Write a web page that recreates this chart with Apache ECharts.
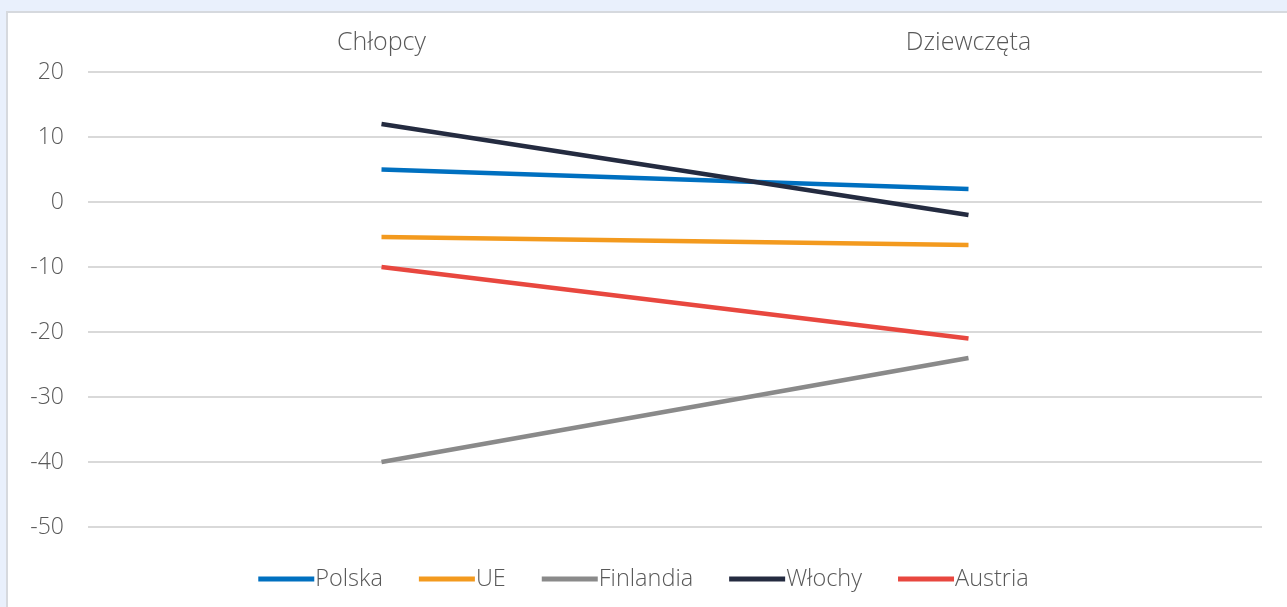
<!DOCTYPE html>
<html>
<head>
<meta charset="utf-8">
<script src="https://cdn.jsdelivr.net/npm/echarts@6/dist/echarts.min.js"></script>
<style>
    html, body { margin: 0; padding: 0; background: #e9f0fc; }
    #card {
        position: absolute; left: 6px; top: 11px; width: 1290px; height: 610px;
        background: #fff; border-left: 2px solid #d6d9de; border-top: 2px solid #d6d9de;
    }
    #chartLine { position: absolute; left: 0; top: 0; width: 1287px; height: 607px; }
</style>
</head>
<body>
<div id="card"></div>
<div id="chartLine"></div>
<script>
// 데이터
const categories = ['Chłopcy', 'Dziewczęta'];
const polska = [5, 2];
const ue = [-5.4, -6.6];
const finlandia = [-40, -24];
const wlochy = [12, -2];
const austria = [-10, -21];

const labelFont = '"Open Sans", "Liberation Sans", sans-serif';

function lineSeries(name, data, color) {
    return {
        name: name,
        type: 'line',
        data: data,
        showSymbol: false,
        symbol: 'none',
        color: color,
        lineStyle: { width: 4.5, color: color },
    };
}

const lineChart = echarts.init(document.getElementById('chartLine'));

const option = {
    animation: false,
    textStyle: { fontFamily: labelFont },
    grid: { left: 88, right: 25, top: 72, bottom: 80 },
    legend: {
        bottom: 11,
        left: 'center',
        icon: 'rect',
        itemWidth: 56,
        itemHeight: 5,
        itemGap: 36,
        textStyle: { fontSize: 23.5, color: '#595959', fontWeight: 300, padding: [0, 0, 0, -4] },
        data: ['Polska', 'UE', 'Finlandia', 'Włochy', 'Austria'],
    },
    xAxis: {
        type: 'category',
        position: 'top',
        data: categories,
        axisLine: { show: false },
        axisTick: { show: false },
        axisLabel: { fontSize: 25, color: '#595959', fontWeight: 300, margin: 17 },
    },
    yAxis: {
        type: 'value',
        min: -50,
        max: 20,
        interval: 10,
        axisLine: { show: false },
        axisTick: { show: false },
        axisLabel: { fontSize: 23, color: '#595959', fontWeight: 300, margin: 24 },
        splitLine: { lineStyle: { color: '#d9d9d9', width: 2 } },
    },
    series: [
        lineSeries('Polska', polska, '#0070c0'),
        lineSeries('UE', ue, '#f39a1e'),
        lineSeries('Finlandia', finlandia, '#8a8a8a'),
        lineSeries('Włochy', wlochy, '#242b40'),
        lineSeries('Austria', austria, '#e8473f'),
    ],
};

option && lineChart.setOption(option);
</script>
</body>
</html>
